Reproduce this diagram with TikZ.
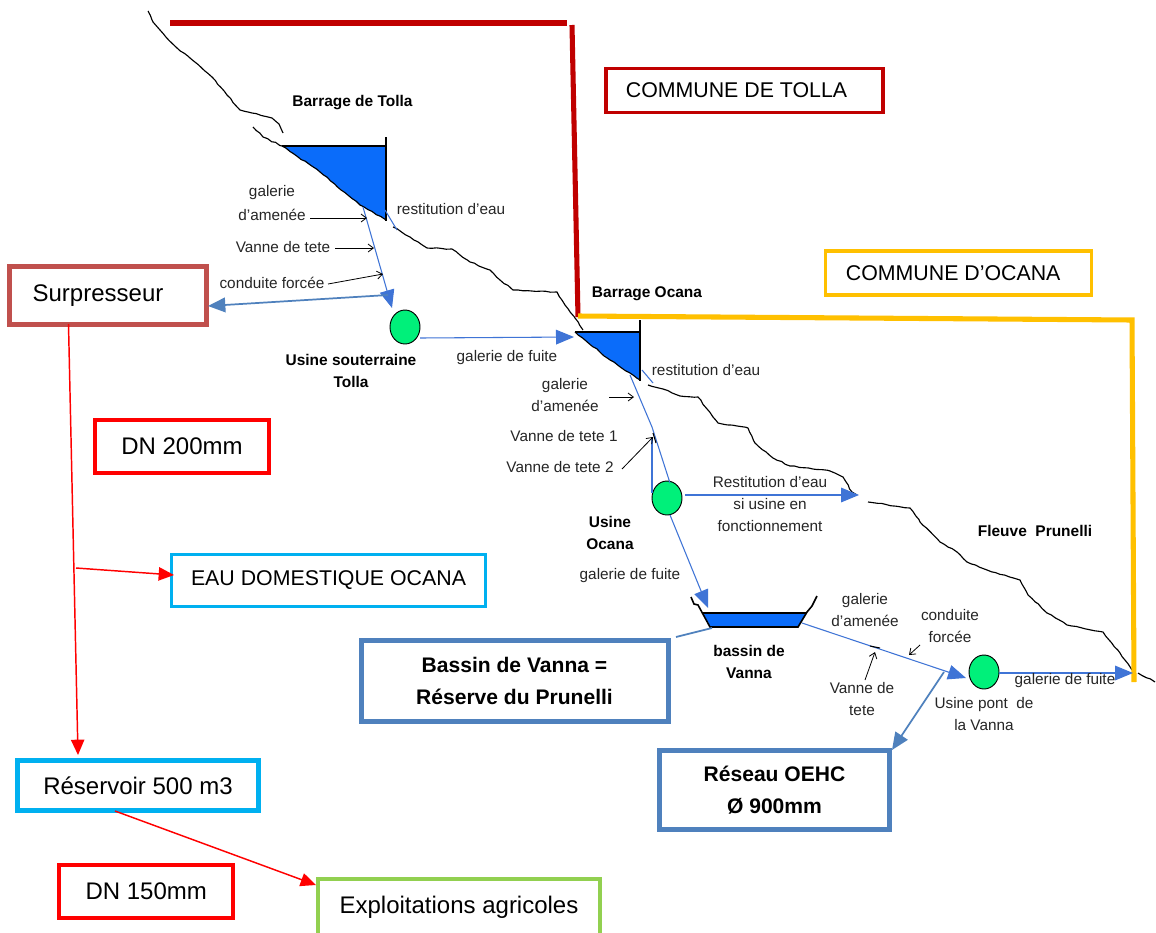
\documentclass[tikz,border=0pt]{standalone}
\usepackage{fontspec}
\setmainfont{Liberation Sans}[Ligatures=ResetAll]
\usetikzlibrary{arrows.meta,shapes.geometric,decorations.pathmorphing}
\definecolor{pipe}{HTML}{3F74D6}
\definecolor{steel}{HTML}{4F81BD}
\definecolor{water}{HTML}{0A6CFA}
\definecolor{plant}{HTML}{00F07A}
\definecolor{darkred}{HTML}{C00000}
\definecolor{amber}{HTML}{FFC000}
\definecolor{sky}{HTML}{00B0F0}
\definecolor{brick}{HTML}{C0504D}
\definecolor{leaf}{HTML}{92D050}
\definecolor{ink}{HTML}{262626}
\tikzset{
  x=0.75pt,y=-0.75pt,
  framebox/.style={draw,fill=white,inner sep=0pt,align=center,font=\fontsize{18}{22}\selectfont,text=black},
  boldbox/.style={framebox,draw=steel,line width=3.75pt,font=\fontsize{15.8}{24}\selectfont\bfseries},
  small/.style={inner sep=0pt,align=center,text=ink,font=\fontsize{11.5}{16.5}\selectfont},
  smallb/.style={small,font=\fontsize{11.6}{16.5}\selectfont\bfseries,text=black},
  ground/.style={draw=black,line width=.85pt,line join=round,decorate,decoration={random steps,segment length=3.5pt,amplitude=.45pt}},
  pipeline/.style={draw=pipe,line width=.8pt},
  pipearrow/.style={pipeline,-{Triangle[length=13.5pt,width=11pt]}},
  steelarrow/.style={draw=steel,line width=1.3pt,-{Triangle[length=13pt,width=11pt]}},
  redarrow/.style={draw=red,line width=1.1pt,-{Triangle[length=11.5pt,width=10pt]}},
  pointer/.style={draw=black,line width=.6pt,-{Straight Barb[length=4pt,width=6pt]}},
  tick/.style={draw=black,line width=.8pt},
  plantnode/.style={ellipse,draw=black,fill=plant,line width=.7pt,minimum width=22.5pt,minimum height=25.5pt,inner sep=0pt},
  limit/.style={line width=3.8pt},
}
\begin{document}
\begin{tikzpicture}
\useasboundingbox (0,0) rectangle (1156,932);
\fill[white] (0,0) rectangle (1156,932);

% reservoirs
\fill[water] (282,146) -- (386,146) -- (386,220) -- (360,205) -- (320,172) -- cycle;
\fill[water] (575,332) -- (640,332) -- (640,380) -- (610,360) -- cycle;
\fill[water] (703,613) -- (807,613) -- (798,626) -- (710,626) -- cycle;

% ground lines
\draw[ground] (148,11) -- (153,22) -- (160,30) -- (177,48) -- (190,58) -- (212,77) -- (227,95) -- (240,110) -- (252,113) -- (272,118) -- (279,124) -- (283,133);
\draw[ground] (253,127) -- (263,137) -- (282,146) -- (320,172) -- (360,205) -- (386,220);
\draw[ground] (393,227) -- (410,237) -- (427,248) -- (452,249) -- (470,262) -- (490,270) -- (500,280) -- (513,290) -- (557,292) -- (565,305) -- (575,318) -- (583,330);
\draw[ground] (575,332) -- (610,360) -- (640,380);
\draw[ground] (648,385) -- (663,389) -- (680,396) -- (698,397) -- (713,417) -- (718,423) -- (748,428) -- (755,443) -- (773,458) -- (790,466) -- (830,471) -- (843,477) -- (852,492) -- (857,495);
\draw[ground] (868,502) -- (910,508) -- (920,522) -- (940,542) -- (957,552) -- (967,562) -- (987,570) -- (1020,580) -- (1028,595) -- (1047,613) -- (1067,625) -- (1103,632) -- (1120,653) -- (1132,670);
\draw[ground] (1138,673) -- (1155,682);

\draw[black,line width=.8pt] (282,146) -- (386,146);
\draw[black,line width=1pt] (386,137) -- (386,221);
\draw[black,line width=.8pt] (575,332) -- (640,332);
\draw[black,line width=1.6pt] (640,320) -- (640,381);
\draw[black,line width=1.2pt] (691,597) -- (694,604) -- (698,605) -- (710,627) -- (798,627) -- (807,612) -- (812,606) -- (817,596);
\draw[black,line width=.9pt] (703,613) -- (807,613);

% territory limits
\draw[darkred,limit] (170,23) -- (567,23);
\draw[darkred,limit] (572,25) -- (578,317);
\draw[amber,limit] (578,316) -- (1132,320) -- (1134,682);

% plants
\node[plantnode] (plantA) at (405,327) {};
\node[plantnode] (plantB) at (667,498) {};
\node[plantnode] (plantC) at (984,672) {};

% framed boxes
\node[framebox,draw=brick,line width=3.75pt,minimum width=197*.75pt,minimum height=58*.75pt] (surp) at (108,295.5) {Surpresseur\hspace*{15pt}};
\node[framebox,draw=darkred,line width=2.6pt,minimum width=277*.75pt,minimum height=44*.75pt,font=\fontsize{16}{20}\selectfont] (tolla) at (744.5,90.5) {COMMUNE DE TOLLA\hspace*{12pt}};
\node[framebox,draw=amber,line width=2.6pt,minimum width=266*.75pt,minimum height=44*.75pt,font=\fontsize{16}{20}\selectfont] (ocana) at (958.5,273) {COMMUNE D’OCANA\hspace*{8pt}};
\node[framebox,draw=red,line width=3.3pt,minimum width=174*.75pt,minimum height=53*.75pt] (dn200) at (182,446.5) {DN 200mm};
\node[framebox,draw=sky,line width=1.8pt,minimum width=314*.75pt,minimum height=52*.75pt,font=\fontsize{16}{20}\selectfont] (eau) at (328.5,580.5) {EAU DOMESTIQUE OCANA};
\node[framebox,draw=sky,line width=3.75pt,minimum width=241*.75pt,minimum height=50*.75pt] (res) at (138,785.5) {Réservoir 500 m3};
\node[framebox,draw=red,line width=3pt,minimum width=173.5*.75pt,minimum height=53*.75pt] (dn150) at (146.2,891.5) {DN 150mm};
\node[framebox,draw=leaf,line width=3.3pt,minimum width=282*.75pt,minimum height=56*.75pt] (expl) at (459,907) {Exploitations agricoles};
\node[boldbox,minimum width=307*.75pt,minimum height=81*.75pt] (vanna) at (514.5,681) {Bassin de Vanna =\\Réserve du Prunelli};
\node[boldbox,minimum width=230*.75pt,minimum height=79*.75pt] (oehc) at (774.5,790) {Réseau OEHC\\Ø 900mm};

% anchor points for pipelines
\coordinate (a1) at (363,207);
\coordinate (a2) at (392,308);
\coordinate (a3) at (388,295);
\coordinate (a4) at (208,306);
\coordinate (a5) at (385,210);
\coordinate (a6) at (397,230);
\coordinate (b0) at (420,338);
\coordinate (b1) at (574,337);
\coordinate (c1) at (630,375);
\coordinate (c2) at (652,427);
\coordinate (c3) at (670,483);
\coordinate (c4) at (652,437);
\coordinate (c5) at (652,493);
\coordinate (c6) at (670,515);
\coordinate (c7) at (708,608);
\coordinate (c8) at (685,495);
\coordinate (c9) at (859,495);
\coordinate (d1) at (642,370);
\coordinate (d2) at (653,383);
\coordinate (e1) at (802,623);
\coordinate (e2) at (966,678);
\coordinate (e3) at (999,673);
\coordinate (e4) at (1133,673);
\coordinate (f1) at (944,672);
\coordinate (f2) at (892,750);
\coordinate (f3) at (712,628);
\coordinate (f4) at (676,637);

\draw[pipearrow] (a1) -- (a2);
\draw[steelarrow] (a3) -- (a4);
\draw[pipeline] (a5) -- (a6);
\draw[pipearrow] (b0) -- (b1);
\draw[pipeline] (c1) -- (c2) -- (c3);
\draw[pipeline,line width=1pt] (c4) -- (c5);
\draw[pipearrow] (c6) -- (c7);
\draw[pipearrow] (c8) -- (c9);
\draw[pipeline] (d1) -- (d2);
\draw[pipearrow] (e1) -- (e2);
\draw[pipearrow] (e3) -- (e4);
\draw[steelarrow] (f1) -- (f2);
\draw[steel,line width=1.3pt] (f3) -- (f4);

% red feeds
\coordinate (r1) at (68.5,324);
\coordinate (r2) at (78,755);
\coordinate (r3) at (76,568);
\coordinate (r4) at (174,575);
\coordinate (r5) at (115,811);
\coordinate (r6) at (316,885);
\draw[redarrow] (r1) -- (r2);
\draw[redarrow] (r3) -- (r4);
\draw[redarrow] (r5) -- (r6);

% labels
\node[smallb] (l1) at (352.5,103) {Barrage de Tolla};
\node[small] (l2) at (272,193) {galerie};
\node[small] (l3) at (272,215) {d'amenée};
\node[small] (l4) at (283,247) {Vanne de tete};
\node[small] (l5) at (272,283) {conduite forcée};
\node[small] (l6) at (451,209) {restitution d'eau};
\node[smallb] (l7) at (351,371) {Usine souterraine\\Tolla};
\node[small] (l8) at (507,358) {galerie de fuite};
\node[smallb] (l9) at (647,294) {Barrage Ocana};
\node[small] (l10) at (706,370) {restitution d'eau};
\node[small] (l11) at (565,395) {galerie\\d'amenée};
\node[small] (l12) at (564,436) {Vanne de tete 1};
\node[small] (l13) at (560,467) {Vanne de tete 2};
\node[small] (l14) at (770,504) {Restitution d'eau\\si usine en\\fonctionnement};
\node[smallb] (l15) at (610,533) {Usine\\Ocana};
\node[small] (l16) at (630,576) {galerie de fuite};
\node[smallb] (l17) at (1035,531) {Fleuve\ \ Prunelli};
\node[small] (l18) at (865,610) {galerie\\d'amenée};
\node[small] (l19) at (950,626) {conduite\\forcée};
\node[smallb] (l20) at (749,662) {bassin de\\Vanna};
\node[small] (l21) at (862,699) {Vanne de\\tete};
\node[small] (l22) at (1065,681) {galerie de fuite};
\node[small] (l23) at (984,714) {Usine pont\ \ de\\la Vanna};

% black pointers
\coordinate (p1) at (310,218);
\coordinate (p2) at (367,218);
\coordinate (p3) at (335,248);
\coordinate (p4) at (374,248);
\coordinate (p5) at (328,284);
\coordinate (p6) at (383,274);
\coordinate (p7) at (609,397);
\coordinate (p8) at (634,397);
\coordinate (p9) at (622,469);
\coordinate (p10) at (653,437);
\coordinate (p11) at (865,680);
\coordinate (p12) at (875,652);
\coordinate (p13) at (920,645);
\coordinate (p14) at (909,655);
\draw[pointer] (p1) -- (p2);
\draw[pointer] (p3) -- (p4);
\draw[pointer] (p5) -- (p6);
\draw[pointer] (p7) -- (p8);
\draw[pointer] (p9) -- (p10);
\draw[pointer] (p11) -- (p12);
\draw[pointer] (p13) -- (p14);
\draw[tick] (653,433) -- (656,443);
\draw[tick] (870,646) -- (880,648);
\end{tikzpicture}
\end{document}
